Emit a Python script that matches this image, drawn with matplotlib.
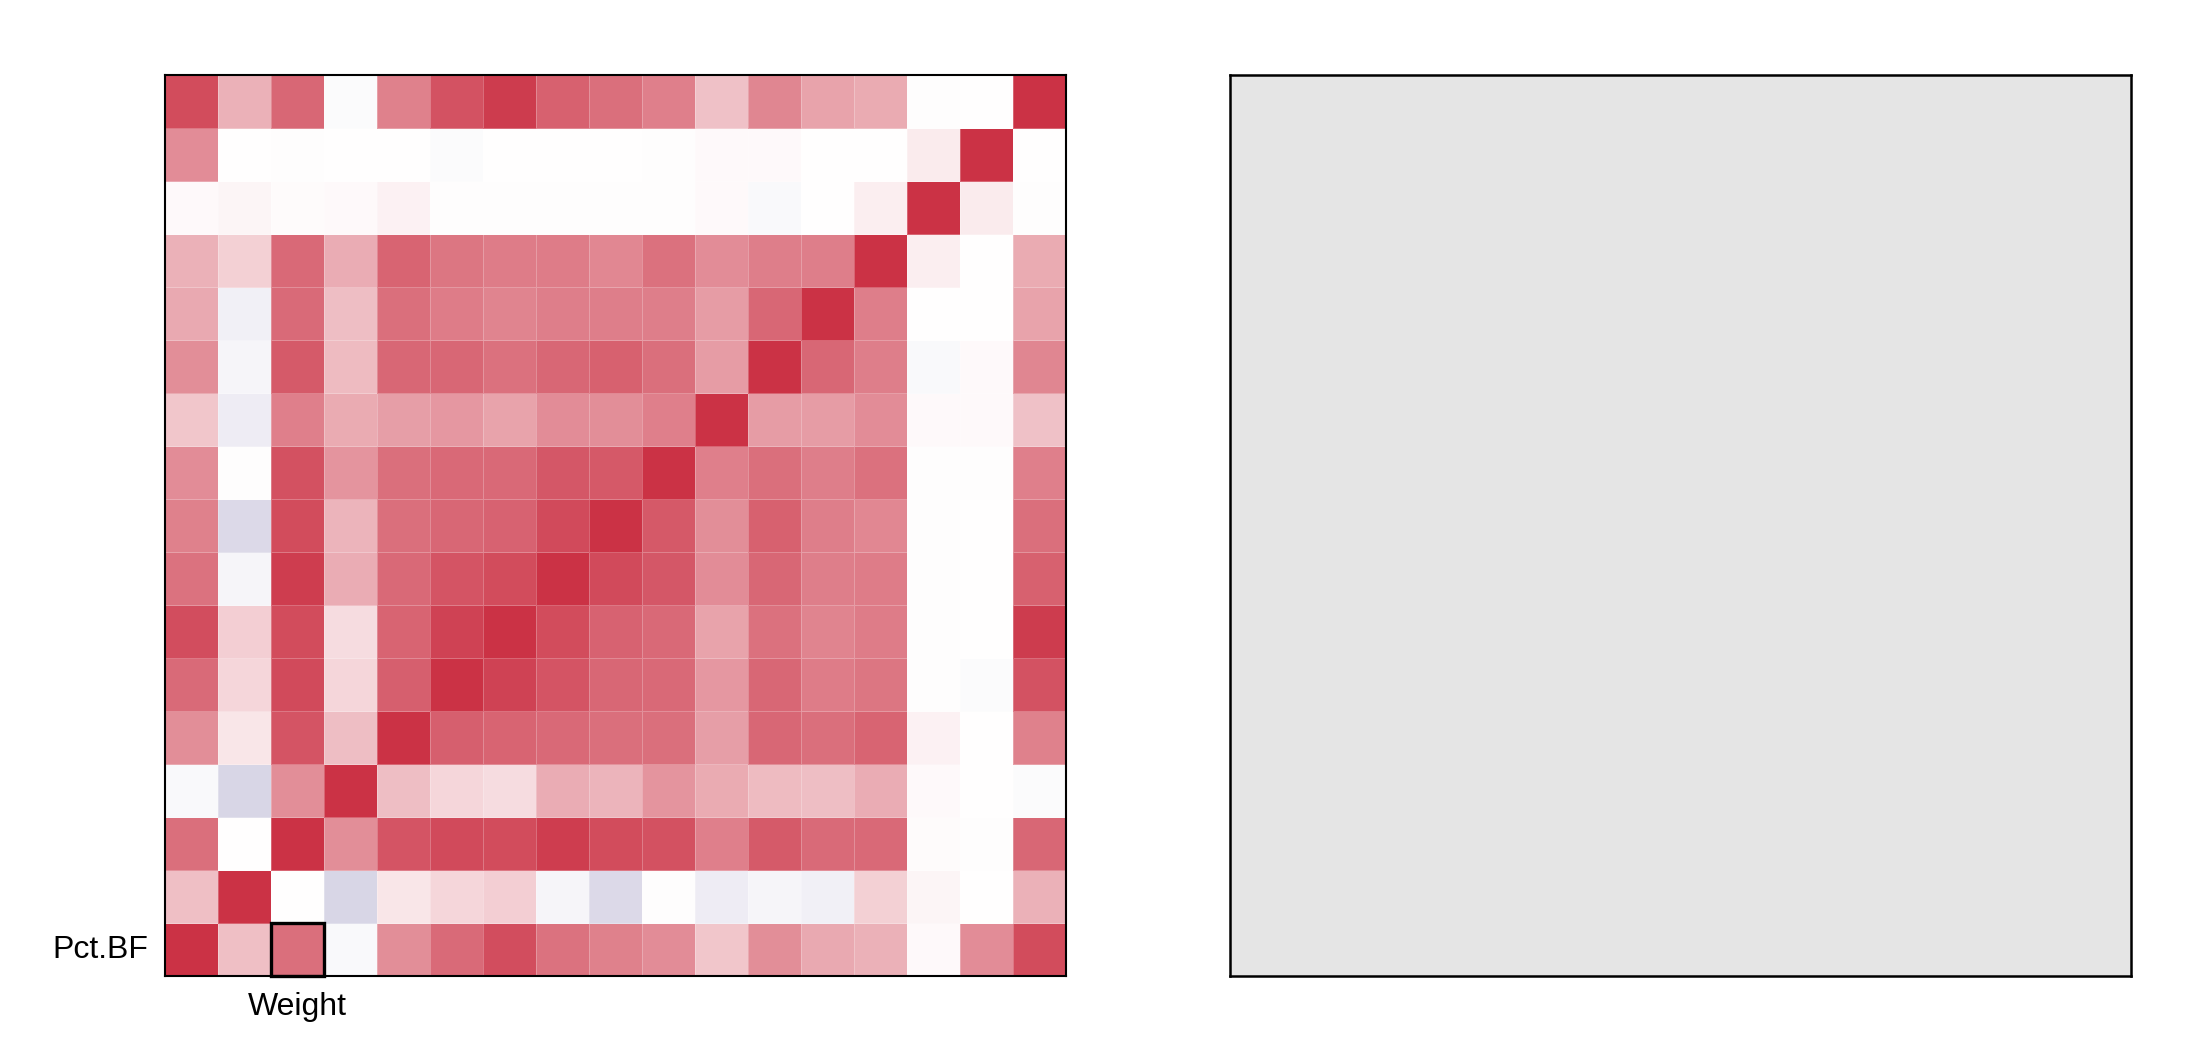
#!/usr/bin/env python3
"""Correlation heatmap with one highlighted cell, next to an empty detail panel."""

import matplotlib

matplotlib.use("Agg")
import matplotlib.pyplot as plt
import numpy as np
from matplotlib.colors import LinearSegmentedColormap
from matplotlib.patches import Rectangle

plt.rcParams["font.family"] = ["Liberation Sans", "DejaVu Sans"]

# correlation rows, bottom row first (Pct.BF), columns in the same order
pct_bf = [1, 0.31, 0.7, -0.03, 0.55, 0.72, 0.86, 0.68, 0.61, 0.56, 0.28, 0.55, 0.42, 0.38, 0.03, 0.56, 0.87]
age = [0.31, 1, 0.0, -0.18, 0.12, 0.2, 0.24, -0.04, -0.17, 0.01, -0.08, -0.04, -0.07, 0.23, 0.05, 0.0, 0.38]
weight = [0.7, 0.0, 1, 0.55, 0.83, 0.88, 0.87, 0.94, 0.87, 0.85, 0.62, 0.8, 0.72, 0.73, 0.02, 0.01, 0.74]
height = [-0.03, -0.18, 0.55, 1, 0.32, 0.2, 0.17, 0.4, 0.36, 0.52, 0.41, 0.33, 0.32, 0.4, 0.03, 0.0, -0.02]
neck = [0.55, 0.12, 0.83, 0.32, 1, 0.78, 0.75, 0.73, 0.7, 0.7, 0.47, 0.74, 0.7, 0.75, 0.07, 0.0, 0.61]
chest = [0.72, 0.2, 0.88, 0.2, 0.78, 1, 0.92, 0.83, 0.74, 0.73, 0.5, 0.74, 0.64, 0.67, 0.01, -0.02, 0.84]
abdomen = [0.86, 0.24, 0.87, 0.17, 0.75, 0.92, 1, 0.87, 0.76, 0.73, 0.45, 0.69, 0.6, 0.64, 0.01, 0.0, 0.95]
hip = [0.68, -0.04, 0.94, 0.4, 0.73, 0.83, 0.87, 1, 0.88, 0.82, 0.56, 0.74, 0.63, 0.64, 0.01, 0.0, 0.77]
thigh = [0.61, -0.17, 0.87, 0.36, 0.7, 0.74, 0.76, 0.88, 1, 0.81, 0.55, 0.77, 0.63, 0.58, 0.01, 0.0, 0.7]
knee = [0.56, 0.01, 0.85, 0.52, 0.7, 0.73, 0.73, 0.82, 0.81, 1, 0.62, 0.7, 0.63, 0.69, 0.01, 0.01, 0.62]
ankle = [0.28, -0.08, 0.62, 0.41, 0.47, 0.5, 0.45, 0.56, 0.55, 0.62, 1, 0.48, 0.48, 0.56, 0.03, 0.03, 0.3]
biceps = [0.55, -0.04, 0.8, 0.33, 0.74, 0.74, 0.69, 0.74, 0.77, 0.7, 0.48, 1, 0.74, 0.63, -0.03, 0.03, 0.59]
forearm = [0.42, -0.07, 0.72, 0.32, 0.7, 0.64, 0.6, 0.63, 0.63, 0.63, 0.48, 0.74, 1, 0.63, 0.0, 0.0, 0.45]
wrist = [0.38, 0.23, 0.73, 0.4, 0.75, 0.67, 0.64, 0.64, 0.58, 0.69, 0.56, 0.63, 0.63, 1, 0.08, 0.0, 0.41]
extra_a = [0.03, 0.05, 0.02, 0.03, 0.07, 0.01, 0.01, 0.01, 0.01, 0.01, 0.03, -0.03, 0.0, 0.08, 1, 0.1, 0.01]
extra_b = [0.56, 0.0, 0.01, 0.0, 0.0, -0.02, 0.0, 0.0, 0.0, 0.01, 0.03, 0.03, 0.0, 0.0, 0.1, 1, 0.0]
extra_c = [0.87, 0.38, 0.74, -0.02, 0.61, 0.84, 0.95, 0.77, 0.7, 0.62, 0.3, 0.59, 0.45, 0.41, 0.01, 0.0, 1]

rows = [pct_bf, age, weight, height, neck, chest, abdomen, hip, thigh, knee,
        ankle, biceps, forearm, wrist, extra_a, extra_b, extra_c]

row_label = "Pct.BF"
col_label = "Weight"
sel_row, sel_col = 0, 2

corr = np.array(rows)
n = corr.shape[0]

cmap = LinearSegmentedColormap.from_list(
    "corr", [(0.0, "#2d1e78"), (0.5, "#ffffff"), (1.0, "#cb3245")]
)

fig = plt.figure(figsize=(22.12, 10.64), dpi=100)
ax = fig.add_axes([0.0746, 0.0827, 0.4073, 0.8468])
ax2 = fig.add_axes([0.5561, 0.0827, 0.4073, 0.8468])

ax.pcolormesh(
    corr, cmap=cmap, vmin=-1, vmax=1,
    edgecolors=(1, 1, 1, 0.25), linewidth=0.6,
)
ax.set_xlim(0, n)
ax.set_ylim(0, n)
ax.set_xticks([])
ax.set_yticks([])
for sp in ax.spines.values():
    sp.set_linewidth(1.5)
    sp.set_color("black")

ax.add_patch(Rectangle((sel_col, sel_row), 1, 1, fill=False,
                       edgecolor="black", linewidth=2.4, clip_on=False, zorder=5))
ax.text(-0.32, sel_row + 0.34, row_label, ha="right", va="baseline", fontsize=23)
ax.text(sel_col + 0.5, -0.74, col_label, ha="center", va="baseline", fontsize=23)

ax2.set_facecolor("#e5e5e5")
ax2.set_xticks([])
ax2.set_yticks([])
for sp in ax2.spines.values():
    sp.set_linewidth(1.8)
    sp.set_color("black")

fig.savefig("out.png", dpi=100)
